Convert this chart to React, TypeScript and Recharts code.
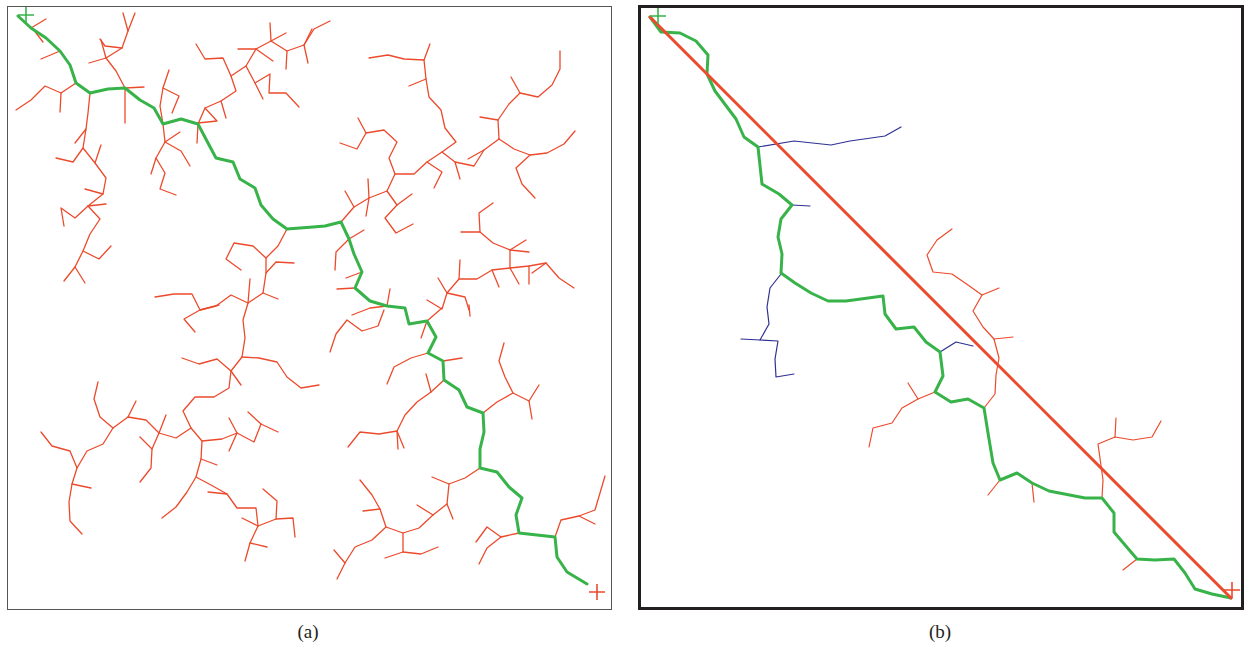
import React from 'react';
import { ScatterChart, Scatter, XAxis, YAxis } from 'recharts';

type Pt = [number, number];

const RED = '#ec4a2c';
const GREEN = '#37b34a';
const BLUE = '#2e3092';

// panel (a): RRT tree, coordinates in panel pixels (origin top-left)
const startA: Pt = [18, 9];
const goalA: Pt = [589, 586];

const pathA: Pt[] = [
  [10, 10], [23, 22], [38, 32], [52, 45], [62, 59], [68, 77], [82, 87], [100, 83], [117, 82], [132, 94],
  [146, 102], [155, 118], [173, 113], [190, 118], [200, 137], [208, 152], [225, 156], [232, 173], [247, 182],
  [253, 199], [265, 213], [279, 223], [305, 221], [317, 220], [333, 216], [341, 233], [346, 248], [354, 266],
  [347, 282], [362, 295], [379, 300], [397, 302], [401, 318], [419, 315], [428, 331], [420, 347], [435, 355],
  [436, 374], [451, 384], [459, 401], [475, 407], [476, 426], [472, 443], [472, 462], [489, 466], [501, 481],
  [514, 492], [508, 509], [511, 527], [547, 531], [549, 551], [559, 566], [579, 578],
];

const treeA: Pt[][] = [
  [[23, 22], [38, 13]],
  [[25, 23], [35, 36]],
  [[52, 45], [33, 53]],
  [[68, 77], [53, 87], [37, 80], [23, 94], [8, 104]],
  [[53, 87], [52, 106]],
  [[82, 87], [80, 107], [78, 123], [75, 142], [65, 156], [48, 152]],
  [[78, 123], [67, 137]],
  [[75, 142], [87, 157], [98, 172], [95, 188], [80, 200], [67, 212], [53, 202], [56, 220]],
  [[87, 157], [93, 139]],
  [[95, 188], [77, 183]],
  [[80, 200], [98, 198]],
  [[80, 200], [92, 213], [82, 228], [75, 245], [67, 261], [56, 275]],
  [[75, 245], [91, 253], [103, 240]],
  [[67, 261], [77, 277]],
  [[117, 82], [108, 65], [98, 52], [93, 34]],
  [[98, 52], [81, 57]],
  [[117, 82], [117, 117]],
  [[117, 82], [136, 81]],
  [[98, 52], [114, 42], [120, 25], [115, 7]],
  [[120, 25], [127, 7]],
  [[114, 42], [97, 40], [92, 33]],
  [[155, 118], [152, 100], [155, 82], [161, 64]],
  [[155, 82], [171, 90], [164, 107]],
  [[155, 118], [157, 136], [172, 126]],
  [[157, 136], [173, 145], [182, 160]],
  [[157, 136], [148, 152], [143, 168]],
  [[148, 152], [157, 167], [152, 183], [168, 189]],
  [[190, 118], [197, 102], [213, 95], [228, 85], [223, 70], [238, 60], [248, 43], [263, 35], [278, 27]],
  [[190, 118], [189, 137]],
  [[197, 102], [209, 115], [190, 117]],
  [[213, 95], [218, 112]],
  [[238, 60], [247, 77], [255, 93]],
  [[247, 77], [262, 68], [261, 87], [278, 87], [291, 101]],
  [[223, 70], [215, 52], [197, 53], [188, 38]],
  [[248, 43], [230, 43]],
  [[248, 43], [265, 55]],
  [[263, 35], [262, 17]],
  [[263, 35], [279, 45], [278, 63]],
  [[279, 45], [296, 39], [306, 23], [322, 15]],
  [[296, 39], [304, 23]],
  [[296, 39], [300, 57]],
  [[279, 223], [270, 240], [258, 252], [245, 240], [226, 237], [218, 253], [233, 264]],
  [[258, 252], [258, 267], [255, 287], [240, 297], [223, 289], [208, 300], [192, 304], [184, 288], [166, 288], [147, 291]],
  [[258, 267], [268, 256], [286, 257]],
  [[255, 287], [270, 293]],
  [[240, 297], [242, 273]],
  [[192, 304], [176, 313], [187, 326]],
  [[192, 304], [211, 299]],
  [[240, 297], [235, 314], [237, 332], [234, 351], [223, 365], [221, 382], [206, 391], [187, 391], [175, 405],
    [183, 422], [194, 435], [193, 453], [188, 471], [179, 486], [168, 501], [154, 512]],
  [[234, 351], [251, 352], [269, 356], [279, 371], [293, 382], [311, 379]],
  [[223, 365], [233, 379]],
  [[223, 365], [209, 353], [191, 358], [174, 352]],
  [[183, 422], [168, 432], [151, 427], [138, 414], [120, 411], [105, 422], [95, 438], [79, 445], [69, 462],
    [64, 478], [61, 496], [62, 515], [74, 528]],
  [[120, 411], [128, 395]],
  [[105, 422], [92, 411], [86, 393], [90, 376]],
  [[69, 462], [62, 445], [44, 440], [33, 426]],
  [[64, 478], [83, 482]],
  [[151, 427], [158, 409]],
  [[151, 427], [144, 443], [143, 462], [132, 476]],
  [[144, 443], [132, 431]],
  [[194, 435], [214, 433], [229, 427], [246, 436], [253, 418], [240, 406]],
  [[253, 418], [270, 426]],
  [[229, 427], [221, 412]],
  [[229, 427], [221, 445]],
  [[193, 453], [209, 459]],
  [[188, 471], [203, 479], [219, 488], [229, 502], [248, 502], [250, 520], [268, 513], [285, 512], [287, 531]],
  [[219, 488], [200, 486]],
  [[250, 520], [234, 512]],
  [[268, 513], [269, 495], [255, 483]],
  [[250, 520], [242, 537], [237, 555]],
  [[242, 537], [259, 541]],
  [[333, 216], [346, 201], [361, 192], [379, 185], [387, 168], [381, 152], [389, 136], [376, 124], [358, 127], [349, 143], [332, 137]],
  [[358, 127], [350, 112]],
  [[346, 201], [337, 185]],
  [[361, 192], [360, 173]],
  [[361, 192], [358, 210]],
  [[379, 185], [389, 199], [404, 188]],
  [[389, 199], [377, 212], [388, 227], [405, 218]],
  [[387, 168], [406, 168], [419, 156], [434, 146], [448, 136], [437, 122], [433, 104], [421, 91], [418, 73],
    [416, 54], [396, 53], [380, 49], [361, 52]],
  [[416, 54], [422, 38]],
  [[418, 73], [401, 80]],
  [[419, 156], [434, 166], [426, 182]],
  [[434, 146], [447, 156], [452, 173]],
  [[447, 156], [466, 160], [476, 144], [491, 133]],
  [[476, 144], [460, 153]],
  [[491, 133], [490, 114], [501, 98], [512, 87], [530, 91], [544, 79], [552, 63], [552, 45]],
  [[512, 87], [503, 71]],
  [[490, 114], [472, 111]],
  [[491, 133], [506, 143], [522, 149], [539, 147], [556, 138], [567, 125]],
  [[522, 149], [508, 162], [514, 178], [527, 192]],
  [[453, 226], [472, 226], [471, 207], [485, 197]],
  [[472, 226], [485, 237], [502, 244], [518, 234]],
  [[502, 244], [521, 246]],
  [[502, 244], [502, 262], [511, 278]],
  [[502, 262], [484, 264], [469, 273], [451, 273], [439, 287], [430, 272]],
  [[484, 264], [491, 281]],
  [[451, 273], [452, 254]],
  [[502, 262], [521, 260], [538, 257], [551, 272], [566, 282]],
  [[521, 260], [521, 278]],
  [[538, 257], [524, 267]],
  [[439, 287], [457, 291], [461, 304]],
  [[439, 287], [434, 303], [419, 294]],
  [[341, 233], [328, 246], [327, 264]],
  [[341, 233], [356, 224]],
  [[354, 266], [338, 272]],
  [[347, 282], [329, 283]],
  [[379, 300], [382, 283]],
  [[379, 300], [362, 302], [344, 309]],
  [[376, 304], [370, 320], [354, 325], [339, 314], [328, 328], [322, 346]],
  [[419, 315], [434, 302]],
  [[419, 315], [413, 332]],
  [[461, 299], [462, 310]],
  [[420, 347], [403, 352], [386, 361], [379, 378]],
  [[435, 355], [454, 352]],
  [[436, 374], [423, 386], [409, 396], [397, 409], [389, 425], [371, 428], [352, 426], [340, 441]],
  [[423, 386], [418, 368]],
  [[389, 425], [390, 443]],
  [[389, 425], [396, 442]],
  [[475, 407], [489, 396], [505, 387], [497, 371], [491, 355], [496, 337]],
  [[505, 387], [521, 395], [531, 379]],
  [[521, 395], [524, 413]],
  [[472, 462], [457, 472], [441, 478], [424, 471]],
  [[441, 478], [439, 498], [425, 509], [411, 522], [395, 527], [378, 521], [364, 534], [347, 541], [337, 557], [329, 573]],
  [[439, 498], [445, 513]],
  [[425, 509], [409, 499]],
  [[378, 521], [372, 503], [364, 489], [352, 474]],
  [[372, 503], [355, 505]],
  [[395, 527], [395, 546], [377, 552]],
  [[395, 546], [413, 548], [430, 541]],
  [[337, 557], [326, 544]],
  [[511, 527], [493, 531], [479, 521], [468, 536]],
  [[493, 531], [479, 542], [471, 558]],
  [[547, 531], [553, 514], [571, 510], [587, 504], [597, 470]],
  [[571, 510], [587, 518]],
];

// panel (b): pruned tree, final path and direct line
const startB: Pt = [18, 10];
const goalB: Pt = [592, 584];

const pathB: Pt[] = [
  [10, 11], [21, 26], [40, 27], [56, 35], [68, 49], [67, 68], [75, 85], [96, 113], [104, 131], [118, 141],
  [122, 178], [139, 188], [152, 199], [141, 213], [138, 231], [142, 248], [141, 267], [155, 277], [171, 287],
  [188, 295], [206, 295], [243, 290], [245, 308], [256, 323], [274, 321], [286, 336], [300, 346], [303, 370],
  [295, 386], [311, 396], [328, 393], [344, 402], [348, 427], [353, 457], [360, 474], [377, 467], [392, 477],
  [409, 485], [445, 492], [462, 492], [474, 507], [474, 526], [485, 539], [497, 553], [515, 554], [534, 553],
  [545, 567], [555, 583], [572, 588], [591, 592],
];

const directB: Pt[] = [[10, 11], [591, 592]];

const blueB: Pt[][] = [
  [[118, 141], [154, 135], [191, 139], [210, 135], [245, 130], [261, 121]],
  [[152, 199], [170, 200]],
  [[141, 268], [130, 282], [127, 301], [129, 318], [120, 334], [138, 335], [135, 353], [136, 371], [154, 368]],
  [[120, 334], [101, 333]],
  [[300, 346], [316, 336], [333, 340]],
];

const treeB: Pt[][] = [
  [[312, 223], [297, 234], [287, 249], [293, 266], [312, 268], [328, 279], [342, 289], [359, 282]],
  [[342, 289], [333, 305], [343, 321], [354, 333], [373, 331]],
  [[354, 333], [359, 352], [356, 369], [355, 388], [344, 402]],
  [[295, 386], [278, 393], [268, 377]],
  [[278, 393], [262, 402], [252, 417], [233, 422], [229, 441]],
  [[360, 474], [348, 489]],
  [[392, 477], [394, 496]],
  [[462, 492], [463, 474], [458, 438], [475, 431], [493, 434], [512, 431], [521, 415]],
  [[475, 431], [476, 412]],
  [[497, 553], [483, 564]],
];

const toData = (pts: Pt[]) => pts.map(([x, y]) => ({ x, y }));
const noDot = () => <g />;

// start / goal markers drawn as thin plus signs at the scaled point
const crossShape = (color: string) => (p: any) => (
  <path
    d={`M${p.cx - 8},${p.cy}H${p.cx + 8}M${p.cx},${p.cy - 8}V${p.cy + 8}`}
    stroke={color}
    strokeWidth={1.6}
    fill="none"
  />
);

function polyline(pts: Pt[], color: string, width: number, key: string) {
  return (
    <Scatter
      key={key}
      data={toData(pts)}
      fill={color}
      line={{ stroke: color, strokeWidth: width, strokeLinejoin: 'round', strokeLinecap: 'round' }}
      lineType="joint"
      shape={noDot}
      isAnimationActive={false}
    />
  );
}

function Panel({ w, h, children }: { w: number; h: number; children: React.ReactNode }) {
  return (
    <ScatterChart width={w} height={h} margin={{ top: 0, right: 0, bottom: 0, left: 0 }}>
      <XAxis type="number" dataKey="x" domain={[0, w]} hide allowDataOverflow />
      <YAxis type="number" dataKey="y" domain={[0, h]} reversed hide allowDataOverflow />
      {children}
    </ScatterChart>
  );
}

const labelStyle: React.CSSProperties = {
  position: 'absolute',
  top: 621,
  width: 616,
  textAlign: 'center',
  fontFamily: '"Liberation Serif", serif',
  fontSize: 19,
  color: '#231f20',
};

export default function App() {
  return (
    <div style={{ position: 'absolute', left: 0, top: 0, width: 1244, height: 650, background: '#fff' }}>
      <div style={{ position: 'absolute', left: 7, top: 6, width: 605, height: 604, border: '1px solid #555', boxSizing: 'border-box' }} />
      <div style={{ position: 'absolute', left: 8, top: 6 }}>
        <Panel w={603} h={603}>
          {treeA.map((b, i) => polyline(b, RED, 1.3, `ta${i}`))}
          {polyline(pathA, GREEN, 3, 'pa')}
          <Scatter data={toData([startA])} shape={crossShape(GREEN)} isAnimationActive={false} />
          <Scatter data={toData([goalA])} shape={crossShape(RED)} isAnimationActive={false} />
        </Panel>
      </div>

      <div style={{ position: 'absolute', left: 638, top: 5, width: 606, height: 605, border: '3px solid #231f20', boxSizing: 'border-box' }} />
      <div style={{ position: 'absolute', left: 640, top: 6 }}>
        <Panel w={602} h={603}>
          {treeB.map((b, i) => polyline(b, RED, 1.2, `tb${i}`))}
          {blueB.map((b, i) => polyline(b, BLUE, 1.2, `bb${i}`))}
          {polyline(pathB, GREEN, 3, 'pb')}
          {polyline(directB, RED, 3, 'db')}
          <Scatter data={toData([startB])} shape={crossShape(GREEN)} isAnimationActive={false} />
          <Scatter data={toData([goalB])} shape={crossShape(RED)} isAnimationActive={false} />
        </Panel>
      </div>

      <div style={{ ...labelStyle, left: 0 }}>(a)</div>
      <div style={{ ...labelStyle, left: 632 }}>(b)</div>
    </div>
  );
}
